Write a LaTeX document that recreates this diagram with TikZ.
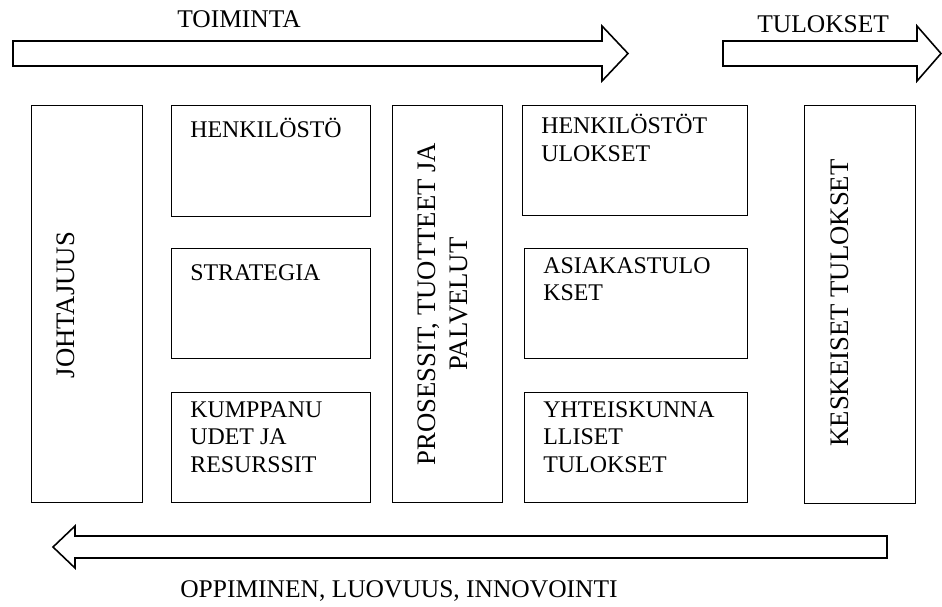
\documentclass[tikz,border=0pt]{standalone}
\usepackage{fontspec}
\setmainfont{Liberation Serif}
\usetikzlibrary{calc}

\begin{document}
\begin{tikzpicture}[x=0.02cm,y=-0.02cm,
	box/.style={draw, line width=0.6pt, inner sep=0pt, anchor=north west},
	boxtext/.style={anchor=north west, align=left, inner sep=0pt,
		font=\fontsize{13.6}{15.6}\selectfont, execute at begin node={\rule{0pt}{13pt}}},
	sidetext/.style={rotate=90, inner sep=0pt, align=center, font=\fontsize{15.2}{18.2}\selectfont},
	bigarrow/.style={draw, line width=0.9pt, fill=white},
	caption/.style={anchor=base west, inner sep=0pt, font=\fontsize{14.5}{17}\selectfont}]

	% ---- parameters

	\def\unit{0.02}
	\def\inset{19}
	\def\drop{9.1}

	% ---- frame

	\useasboundingbox (0,0) rectangle (942,606);

	% ---- arrows

	\draw[bigarrow] (13,41) -- (602,41) -- (602,26) -- (628,53.5) -- (602,81) -- (602,66) -- (13,66) -- cycle;
	\draw[bigarrow] (723,41) -- (917,41) -- (917,26) -- (941,53.5) -- (917,81) -- (917,66) -- (723,66) -- cycle;
	\draw[bigarrow] (887,536) -- (75,536) -- (75,526) -- (53,547) -- (75,568) -- (75,558) -- (887,558) -- cycle;

	% ---- arrow labels

	\node[caption] (toiminta) at (177,27) {TOIMINTA};
	\node[caption] (tulokset) at (757,32) {TULOKSET};
	\node[caption] (oppiminen) at (180,597) {OPPIMINEN, LUOVUUS, INNOVOINTI};

	% ---- tall boxes

	\node[box, minimum width=111*\unit cm, minimum height=397*\unit cm] (johtajuus) at (31,105) {};
	\node[box, minimum width=110*\unit cm, minimum height=397*\unit cm] (prosessit) at (392,105) {};
	\node[box, minimum width=111*\unit cm, minimum height=398*\unit cm] (keskeiset) at (804,105) {};

	% ---- small boxes

	\node[box, minimum width=199*\unit cm, minimum height=111*\unit cm] (henkilosto) at (171,105) {};
	\node[box, minimum width=199*\unit cm, minimum height=110*\unit cm] (strategia) at (171,248) {};
	\node[box, minimum width=199*\unit cm, minimum height=110*\unit cm] (kumppanuudet) at (171,392) {};
	\node[box, minimum width=225*\unit cm, minimum height=110*\unit cm] (henkilostotulokset) at (522,105) {};
	\node[box, minimum width=223*\unit cm, minimum height=110*\unit cm] (asiakastulokset) at (524,248) {};
	\node[box, minimum width=223*\unit cm, minimum height=110*\unit cm] (yhteiskunta) at (524,392) {};

	% ---- box texts

	\node[boxtext] at ($(henkilosto.north west)+(\inset,\drop)$) {HENKILÖSTÖ};
	\node[boxtext] at ($(strategia.north west)+(\inset,\drop)$) {STRATEGIA};
	\node[boxtext] at ($(kumppanuudet.north west)+(\inset,\drop)$) {KUMPPANU\\UDET JA\\RESURSSIT};
	\node[boxtext] at ($(henkilostotulokset.north west)+(\inset,\drop)$) {HENKILÖSTÖT\\ULOKSET};
	\node[boxtext] at ($(asiakastulokset.north west)+(\inset,\drop)$) {ASIAKASTULO\\KSET};
	\node[boxtext] at ($(yhteiskunta.north west)+(\inset,\drop)$) {YHTEISKUNNA\\LLISET\\TULOKSET};

	% ---- rotated texts

	\node[sidetext, anchor=base] at (74,305) {JOHTAJUUS};
	\node[sidetext, anchor=center] at (442.5,304) {PROSESSIT, TUOTTEET JA\\PALVELUT};
	\node[sidetext, anchor=base] at (848,303) {KESKEISET TULOKSET};

\end{tikzpicture}
\end{document}
